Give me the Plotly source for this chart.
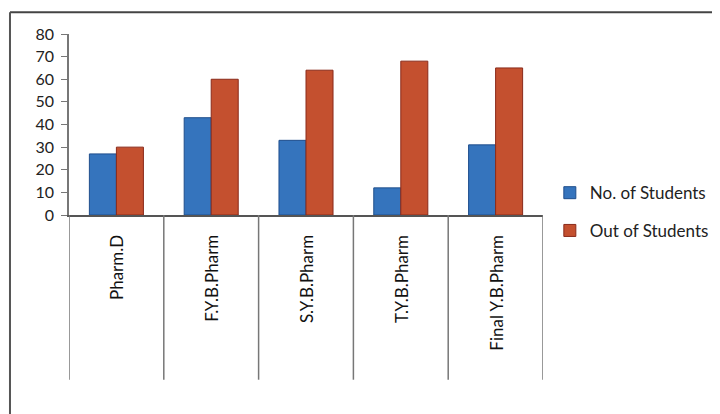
import plotly.graph_objects as go

categories = ["Pharm.D", "F.Y.B.Pharm", "S.Y.B.Pharm", "T.Y.B.Pharm", "Final Y.B.Pharm"]
no_of_students = [27, 43, 33, 12, 31]
out_of_students = [30, 60, 64, 68, 65]
y_ticks = [0, 10, 20, 30, 40, 50, 60, 70, 80]

FONT = "Lato, 'Open Sans', sans-serif"

fig = go.Figure()
fig.add_trace(go.Bar(
    x=categories, y=no_of_students, name="No. of Students",
    marker=dict(color="#3574BD", line=dict(color="#1F4E8C", width=1)),
    legend="legend", showlegend=True,
))
fig.add_trace(go.Bar(
    x=categories, y=out_of_students, name="Out of Students",
    marker=dict(color="#C4502F", line=dict(color="#8A2A1A", width=1)),
    legend="legend2", showlegend=True,
))

# category divider lines extending into the label area
shapes = []
for i in range(len(categories) + 1):
    shapes.append(dict(type="line", xref="x", yref="paper",
                       x0=i - 0.5, x1=i - 0.5, y0=0, y1=-0.91,
                       line=dict(color="#777777", width=1.5)))
# outer border (top and left visible)
shapes.append(dict(type="line", xref="paper", yref="paper",
                   x0=-0.1245, x1=1.4, y0=1.12, y1=1.12,
                   line=dict(color="#444444", width=2)))
shapes.append(dict(type="line", xref="paper", yref="paper",
                   x0=-0.1245, x1=-0.1245, y0=1.12, y1=-1.2,
                   line=dict(color="#555555", width=2)))

# category labels, rotated, hanging below the axis
annotations = []
for c in categories:
    annotations.append(dict(text=c, x=c, xref="x", yref="paper", y=-0.1,
                            xanchor="center", yanchor="top", textangle=-90,
                            showarrow=False,
                            font=dict(family=FONT, size=17, color="#111111")))

fig.update_layout(
    width=712, height=406,
    margin=dict(l=61, r=177, t=26, b=199, autoexpand=False),
    paper_bgcolor="white", plot_bgcolor="white",
    barmode="group", bargap=0.43, bargroupgap=0,
    font=dict(family=FONT, size=16, color="#222222"),
    shapes=shapes, annotations=annotations,
    showlegend=True,
    legend=dict(xref="container", yref="container", x=0.761, y=0.544,
                xanchor="left", yanchor="middle", itemwidth=30,
                font=dict(size=17, color="#222222"), bgcolor="rgba(0,0,0,0)"),
    legend2=dict(xref="container", yref="container", x=0.761, y=0.451,
                 xanchor="left", yanchor="middle", itemwidth=30,
                 font=dict(size=17, color="#222222"), bgcolor="rgba(0,0,0,0)"),
)
fig.update_xaxes(
    type="category", showline=True, linecolor="#555555", linewidth=1.5,
    ticks="", showticklabels=False, automargin=False,
    showgrid=False, range=[-0.5, len(categories) - 0.5],
)
fig.update_yaxes(
    range=[0, 80], tickvals=y_ticks, showline=True, linecolor="#777777", linewidth=1.5,
    ticks="outside", ticklen=6, tickcolor="#777777", showgrid=False, zeroline=False,
    tickfont=dict(size=16, color="#222222"), ticklabelstandoff=4, automargin=False,
)

fig.write_html("out.html")
